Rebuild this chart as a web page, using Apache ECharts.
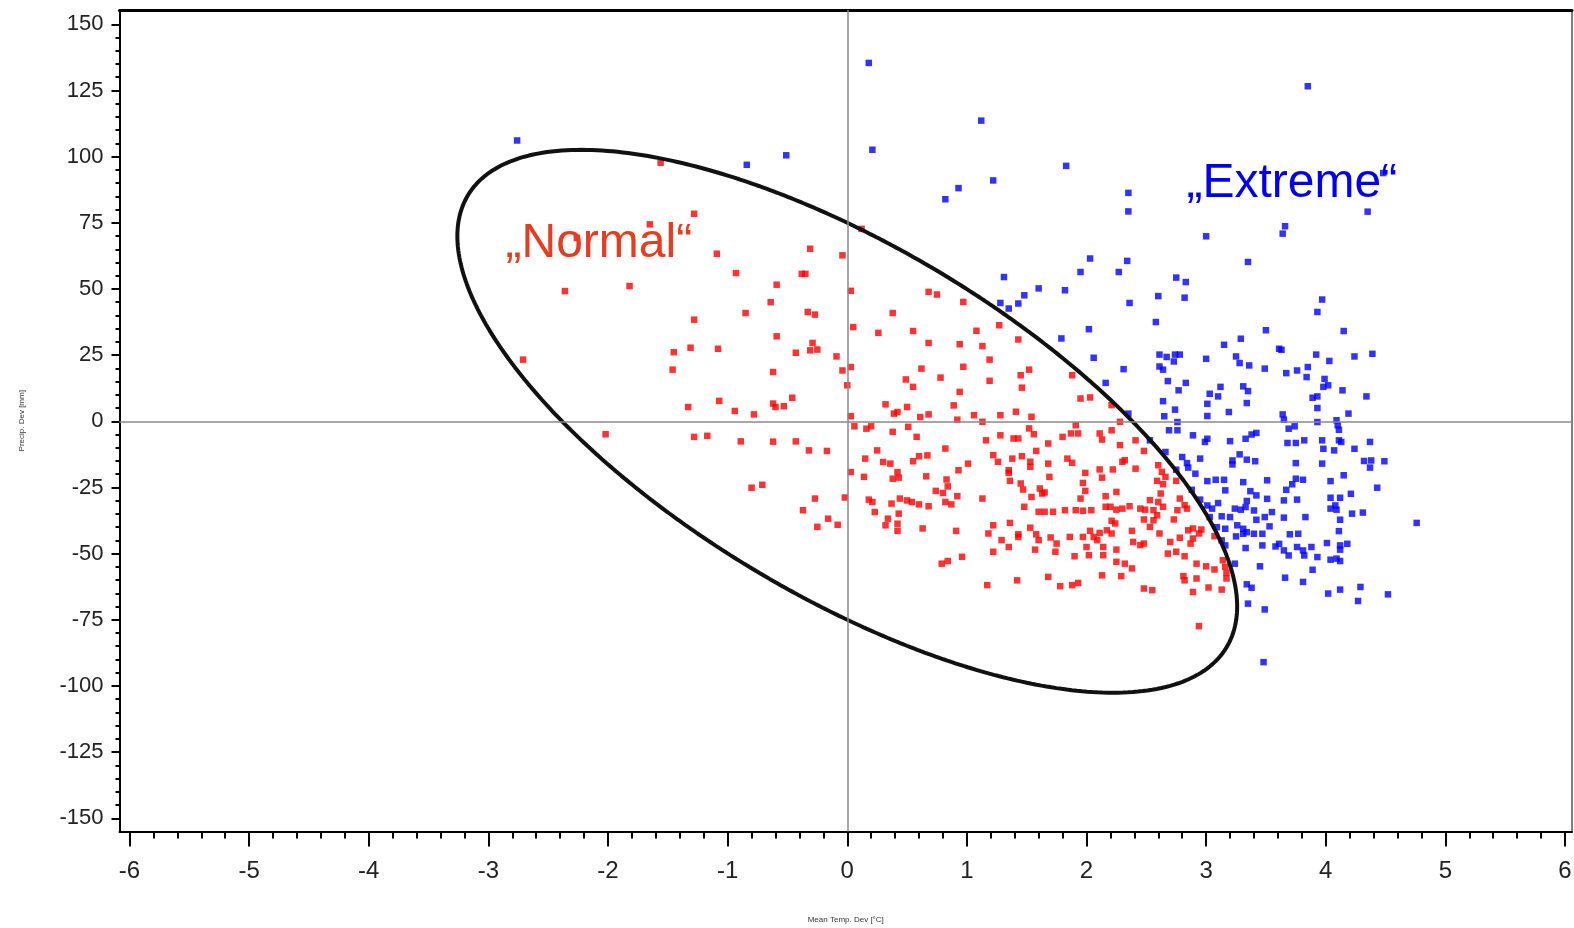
<!DOCTYPE html>
<html><head><meta charset="utf-8">
<script src="https://cdn.jsdelivr.net/npm/echarts@6/dist/echarts.min.js"></script>
<style>html,body{margin:0;padding:0;background:#fff}#c{width:1574px;height:928px}</style>
</head><body><div id="c"></div>
<script>
// Tick labels
const xTickLabels = [-6,-5,-4,-3,-2,-1,0,1,2,3,4,5,6];
const yTickLabels = [-150,-125,-100,-75,-50,-25,0,25,50,75,100,125,150];
const xMinorStep = 0.2;
const yMinorStep = 5;

// "Normal" points (red): [Mean Temp. Dev, Precip. Dev]
const normalPoints = [
[-1.56,97.7],[-1.28,78.4],[-1.65,74.4],[-2.26,69.3],[0.12,72.7],[-1.09,63.3],[-0.31,65.2],[-0.04,62.7],[-0.93,56],[-0.38,55.7],[-0.35,55.7],[-0.59,51.6],[-2.36,49.2],[-1.82,51.1],[0.03,49.3],[-0.64,45],[-0.85,40.9],[-0.33,41.3],[-0.27,40.3],[0.38,40.9],[-1.28,38.4],[0.05,35.6],[0.26,33.4],[-0.59,32.1],[-1.45,26.1],[-1.46,19.5],[-1.31,27.8],[-1.08,27.4],[-0.43,25.9],[-0.29,29.6],[-0.31,26.8],[-0.25,27.1],[-0.09,24.5],[-2.71,23.3],[-0.62,18.6],[-0.04,19.2],[0.03,20.5],[0,13.6],[-0.46,8.9],
[0.68,48.9],[0.75,47.9],[0.55,34.1],[0.68,29.6],[0.62,19.9],[0.78,16.5],[0.49,15.8],[0.55,13],[-2.02,-4.9],
[-1.33,5.4],[-1.07,7.7],[-0.94,3.9],[-0.78,2.6],[-0.62,6.7],[-0.60,5.4],[-0.53,5.7],
[-1.28,-5.9],[-1.17,-5.5],[-0.89,-7.6],[-0.62,-7.7],[-0.43,-7.6],[-0.32,-11],[-0.17,-11.2],[-0.80,-25.1],[-0.71,-24],[-0.27,-29.2],[-0.02,-28.8],[-0.37,-33.6],[-0.16,-36.8],[-0.25,-39.9],[-0.08,-39.1],
[0.03,1.9],[0.06,-1.9],[0.16,-2.8],[0.20,-1.9],[0.32,6.4],[0.39,2.9],[0.42,3.5],[0.50,5.4],[0.61,1.6],[0.68,2.6],[0.89,6],[0.92,0.6],[0.38,-4],[0.51,-2.1],[0.58,-5.9],[0.25,-11],[0.15,-14.1],[0.30,-15.4],[0.36,-16],[0.55,-15.1],[0.60,-13.2],[0.67,-12.9],[0.82,-10.3],[0.93,-18.5],[0.03,-19.2],[0.14,-21],[0.38,-21.7],[0.42,-19.2],[0.43,-21.3],[0.66,-20.8],[0.83,-22],[0.84,-24.6],[0.74,-26.3],[0.80,-27.1],[0.92,-28.3],[0.82,-30.5],[0.87,-31.4],[0.18,-29.6],[0.21,-30.5],[0.37,-31.1],[0.44,-29.2],[0.50,-29.9],[0.54,-30.5],[0.60,-31.4],[0.68,-32.1],[0.23,-34.3],[0.43,-34.9],[0.34,-36.8],[0.32,-39.3],[0.42,-38.7],[0.42,-41.4],[0.63,-40.5],[0.91,-41.4],[0.79,-53.8],[0.84,-52.8],
[0.97,45.1],[1.27,36.3],[1.08,34.2],[1.43,30.9],[0.94,29.1],[1.13,28.4],[1.19,23.3],[0.97,20.6],[1.52,19.5],[1.45,17.4],[1.19,15.3],[1.88,17.4],[1.46,12.7],[0.94,11.1],[1.95,8.6],[2.03,9],[2.21,6.1],[1.41,3.6],[1.28,2.3],[1.06,2.3],[1.13,-0.2],[1.54,1.7],[2.28,-0.2],[1.91,-1.5],[1.52,-2.7],[1.56,-4.9],[2.21,-3.4],[1.28,-5.3],[1.39,-6.5],[1.43,-6.5],[1.80,-5.9],[1.87,-4.6],[1.93,-4.6],[2.11,-4.6],[2.13,-6.9],[1.16,-7.2],[1.68,-8.4],[2.28,-9],[2.41,-7.2],[1.58,-11.2],[2.48,-11.2],[1.22,-12.8],[1.26,-15.3],[1.38,-14.1],[1.46,-13.2],[1.84,-14.1],[1.88,-15.7],[1.01,-16],[1.53,-15.3],[1.53,-17.2],[1.68,-16],[2.30,-15.3],[2.32,-14.7],[1.35,-18.5],[1.35,-19.5],[1.99,-19.5],[2.11,-18.2],[2.22,-18.2],[2.41,-17.9],[2.60,-16.6],[2.63,-19.1],[1.36,-22.5],[1.69,-21],[1.97,-23.3],[1.99,-26.3],[2.13,-21.3],[2.59,-22.5],[2.66,-21],[2.64,-23.8],[2.75,-22.5],[1.45,-23.5],[1.47,-25.8],[1.61,-25.4],[1.65,-26.9],[1.63,-27.3],[1.13,-29.2],[1.54,-28.6],[1.95,-29.2],[2.16,-28.3],[2.25,-26.7],[2.53,-29.8],[2.49,-33.4],[2.56,-33.6],[2.62,-27.3],[2.60,-30.5],[2.64,-32.3],[2.78,-29.2],[2.82,-31.7],[2.84,-33],[1.48,-32.3],[1.60,-34.2],[1.65,-34.2],[1.72,-34.2],[1.82,-33.6],[1.91,-33.6],[1.97,-33.8],[2.04,-33.6],[2.16,-32.3],[2.20,-32.3],[2.25,-33.4],[2.30,-33],[2.36,-32.1],[2.45,-33],[2.48,-37.1],[2.53,-39.9],[2.56,-37.4],[2.59,-35.5],[2.76,-33.6],[2.73,-37.1],[2.21,-37.6],[2.24,-38.6],[1.36,-38.4],[1.22,-39.3],[1.53,-40.2],[1.18,-42.4],[1.43,-42.7],[1.43,-43.7],[1.58,-42.7],[1.60,-44.9],[1.70,-43.9],[1.86,-43.7],[1.97,-43.7],[2.03,-41.4],[2.06,-43.7],[2.11,-42.2],[2.17,-41.2],[2.21,-42.4],[2.09,-44.9],[2.38,-41.4],[2.39,-45.6],[2.45,-46.8],[2.48,-46.2],[2.61,-42.4],[2.70,-45.6],[2.78,-44],[2.85,-41.2],[2.89,-40.5],[2.94,-42.4],[2.96,-40.9],[2.87,-46.2],[2.89,-44.3],[3.07,-43.4],[1.29,-44.9],[1.35,-47.5],[1.22,-49.3],[1.57,-48.5],[1.74,-49.3],[1.75,-46.2],[2.00,-47.5],[2.02,-50.6],[2.14,-47.5],[2.14,-50.6],[2.25,-48.5],[1.90,-51],[0.96,-51.2],[2.25,-53.1],[2.32,-53.8],[2.38,-55.6],[2.68,-50],[2.75,-49.3],[2.82,-51],[2.92,-53.8],[3.00,-54.8],[3.07,-56],[3.14,-52.5],[3.16,-55],[3.17,-57.3],[3.17,-59.4],[1.68,-58.8],[2.13,-58.2],[2.29,-58.5],[2.81,-58.5],[2.82,-60.1],[2.92,-59.4],[1.17,-61.9],[1.42,-60.1],[1.78,-62.3],[1.88,-61.9],[1.93,-61.1],[2.48,-63.2],[2.55,-63.8],[2.89,-64.5],[3.02,-62.8],[3.13,-63.6],[2.94,-77.4]
];

// "Extreme" points (blue)
const extremePoints = [
[-2.76,106.1],[-0.84,96.9],[-0.51,100.5],[0.21,102.6],
[0.18,135.4],[1.12,113.6],[1.22,91],[0.82,83.9],[0.93,88.1],[1.83,96.5],[2.35,86.3],[2.35,79.3],[3.85,126.6],[4.35,79.2],[4.48,93.8],[3.00,69.9],[3.66,73.7],[3.64,70.9],[2.03,61.5],[1.95,56.4],[2.27,56.4],[2.34,60.6],[1.31,54.5],
[1.60,50.2],[1.82,49.5],[1.48,47.6],[1.28,44.7],[1.43,44.5],[1.35,42.6],[2.36,44.7],[2.02,34.8],[1.79,31.3],[2.06,24],[2.31,19.7],[2.16,14.5],[2.35,2.9],
[3.35,60.2],[2.75,54.3],[2.83,52.6],[2.60,47.3],[2.82,46.7],[3.97,46],[3.93,41.3],[2.58,37.5],[3.50,34.4],[4.15,34.1],[3.29,31.2],[3.15,28.9],[3.61,27.4],[3.63,27],[2.61,25.2],[2.67,24.3],[2.74,25.2],[2.78,25.2],[3.00,23.6],[3.25,24.5],[3.92,25.2],[4.03,22.8],[4.24,24.5],[4.39,25.5],[2.61,20.7],[2.64,19.5],[2.73,22.6],[3.28,22],[3.36,21.1],[3.49,19.9],[3.67,18.2],[3.76,19.2],[3.85,20.5],[3.84,16.7],[3.99,16],[2.68,15.2],[2.83,14.5],[3.12,13],[3.98,13],[4.02,13.6],[3.31,13.2],[3.35,11.4],[4.14,11.7],[2.77,11.7],[3.03,10.4],[3.10,9.4],[4.34,9.4],[3.89,8.9],[3.93,9.4],[2.64,7.6],[3.34,6.9],[3.01,6.6],[2.74,4.4],[3.93,5],[3.19,3.5],[4.19,2.9],[2.65,1.9],[3.01,2],[3.64,2.6],[3.65,0.6],[3.93,-0.3],[4.09,0.4],[4.10,-1.5],[4.11,-3.2],[2.76,-0.3],[3.69,-2.8],[3.74,-1.9],[2.69,-3.4],[2.76,-3.4],[2.89,-5.3],[3.01,-6.6],[2.99,-7.8],[3.20,-7.5],[3.33,-6.6],[3.38,-5],[3.42,-4.4],[3.68,-8.2],[3.75,-8.2],[3.82,-7.2],[3.97,-7.2],[3.98,-10.4],[4.07,-11],[4.11,-7.2],[4.13,-7.8],[4.24,-10.4],[4.37,-7.8],[2.53,-7.2],[2.66,-11.6],[2.80,-13.5],[2.95,-14.1],[3.28,-12.5],[3.22,-14.8],[3.22,-16.3],[3.34,-14.5],[3.41,-15.1],[3.75,-15.8],[3.97,-16],[4.32,-15],[4.38,-14.8],[4.37,-17.5],[4.49,-15.1],[2.84,-15.8],[2.85,-17.5],[2.91,-19.8],[3.01,-22.6],[3.08,-22.1],[3.15,-22.1],[3.31,-23],[3.51,-22.3],[3.75,-21.7],[3.81,-22.1],[4.04,-22.6],[4.15,-20.4],[2.88,-25.9],[3.16,-26.1],[3.37,-26.4],[3.42,-28],[3.67,-25.9],[3.72,-23.8],[4.04,-28.9],[4.12,-28.9],[4.21,-27.4],[4.43,-25.1],[2.95,-29.6],[3.10,-30.9],[3.34,-30.1],[3.51,-29.3],[3.65,-29.9],[3.76,-29.6],[4.04,-33],[4.09,-33.4],[4.08,-31.8],[4.22,-34.9],[4.31,-34.5],[4.76,-38.4],[3.03,-36.2],[3.13,-35.9],[3.20,-36.2],[3.24,-33],[3.29,-33.4],[3.33,-32.4],[3.40,-33.7],[3.42,-37.2],[3.49,-36.2],[3.55,-34.3],[3.65,-36.4],[3.83,-36.2],[4.12,-37.2],[3.09,-40],[3.16,-40.6],[3.26,-39.3],[3.31,-40.6],[3.34,-41.9],[3.40,-42.5],[3.47,-42.5],[3.53,-39.7],[3.70,-42.7],[3.77,-42.5],[4.11,-41.5],[3.13,-45],[3.16,-46.9],[3.25,-43.5],[3.31,-42.5],[3.33,-47.9],[3.47,-46.9],[3.58,-47.3],[3.61,-46.3],[3.65,-48.8],[3.69,-50.7],[3.76,-47.5],[3.81,-48.8],[3.82,-50.7],[3.88,-47.5],[3.93,-51.3],[4.01,-46],[4.04,-52.3],[4.09,-51.9],[4.12,-52.8],[4.12,-46.9],[4.12,-48.5],[4.18,-46.3],[3.24,-53.8],[3.45,-54.8],[3.89,-56.1],[3.66,-59.1],[3.81,-60.7],[3.34,-61.6],[3.38,-62.9],[4.02,-65.1],[4.12,-63.6],[4.27,-67.9],[4.29,-62.6],[4.52,-65.4],[3.35,-68.9],[3.49,-71.1],[2.75,-18.3],[3.01,-31.8],[3.05,-33],[3.48,-91]
];

// Separating ellipse: A*x^2 + B*x*y + C*y^2 = 1 (data units, centred at origin)
const ellipseA = 0.176;
const ellipseB = 0.00763;
const ellipseC = 1 / 5625;

const ellipsePoints = [];
(function () {
  const S = 30;
  for (let i = 0; i <= 720; i++) {
    const t = i * Math.PI / 360;
    const c = Math.cos(t), s = Math.sin(t) * S;
    const r = 1 / Math.sqrt(ellipseA * c * c + ellipseB * c * s + ellipseC * s * s);
    ellipsePoints.push([r * c, r * s]);
  }
})();

const xMin = -6.0836, xMax = 6.0585, yMin = -155.0, yMax = 155.4;

function minorValues(labels, step) {
  const out = [];
  const lo = labels[0], hi = labels[labels.length - 1];
  const major = labels[1] - labels[0];
  const n = Math.round((hi - lo) / step);
  for (let i = 0; i <= n; i++) {
    const v = +(lo + i * step).toFixed(4);
    const k = (v - lo) / major;
    if (Math.abs(k - Math.round(k)) > 1e-6) out.push(v);
  }
  return out;
}
const xMinor = minorValues(xTickLabels, xMinorStep);
const yMinor = minorValues(yTickLabels, yMinorStep);

const FONT = '"Liberation Sans", Arial, sans-serif';
const chart = echarts.init(document.getElementById('c'), null, {renderer: 'canvas'});

const hidden = {show: false};
chart.setOption({
  animation: false,
  backgroundColor: '#ffffff',
  grid: {left: 119.5, right: 2, top: 10, bottom: 96.5, containLabel: false, outerBoundsMode: 'none'},
  xAxis: [
    {
      type: 'value', position: 'bottom', min: xMin, max: xMax,
      splitLine: hidden,
      axisLine: {show: true, onZero: false, lineStyle: {color: '#000', width: 2}},
      axisTick: {show: true, inside: false, length: 15, lineStyle: {color: '#000', width: 2}, customValues: xTickLabels},
      axisLabel: {show: true, customValues: xTickLabels, margin: 28, fontSize: 24, color: '#222', fontFamily: FONT},
      name: 'Mean Temp. Dev [°C]', nameLocation: 'middle', nameGap: 84,
      nameTextStyle: {fontSize: 8, color: '#333', fontFamily: FONT}
    },
    {
      type: 'value', position: 'bottom', min: xMin, max: xMax,
      splitLine: hidden, axisLabel: hidden,
      axisLine: {show: false, onZero: false},
      axisTick: {show: true, length: 7, lineStyle: {color: '#000', width: 2}, customValues: xMinor}
    },
    {
      type: 'value', position: 'top', min: xMin, max: xMax,
      splitLine: hidden, axisLabel: hidden, axisTick: hidden,
      axisLine: {show: true, onZero: false, lineStyle: {color: '#000', width: 3}}
    }
  ],
  yAxis: [
    {
      type: 'value', position: 'left', min: yMin, max: yMax,
      splitLine: hidden,
      axisLine: {show: true, onZero: false, lineStyle: {color: '#000', width: 2}},
      axisTick: {show: true, length: 8, lineStyle: {color: '#000', width: 2}, customValues: yTickLabels},
      axisLabel: {show: true, customValues: yTickLabels, margin: 16, fontSize: 22, color: '#222', fontFamily: FONT},
      name: 'Precip. Dev [mm]', nameLocation: 'middle', nameGap: 94, nameRotate: 90,
      nameTextStyle: {fontSize: 8, color: '#333', fontFamily: FONT}
    },
    {
      type: 'value', position: 'left', min: yMin, max: yMax,
      splitLine: hidden, axisLabel: hidden,
      axisLine: {show: false, onZero: false},
      axisTick: {show: true, length: 4, lineStyle: {color: '#000', width: 2}, customValues: yMinor}
    },
    {
      type: 'value', position: 'right', min: yMin, max: yMax,
      splitLine: hidden, axisLabel: hidden, axisTick: hidden,
      axisLine: {show: true, onZero: false, lineStyle: {color: '#555', width: 1.5}}
    }
  ],
  series: [
    {
      type: 'scatter', name: 'axes', data: [], z: 1, silent: true,
      markLine: {
        silent: true, symbol: 'none', animation: false,
        label: {show: false},
        lineStyle: {color: '#8a8a8a', width: 1.5, type: 'solid'},
        data: [{xAxis: 0}, {yAxis: 0}]
      }
    },
    {
      type: 'scatter', name: 'Normal', data: normalPoints, symbol: 'rect', symbolSize: 6.5,
      itemStyle: {color: '#ff0000'}, z: 3, silent: true
    },
    {
      type: 'scatter', name: 'Extreme', data: extremePoints, symbol: 'rect', symbolSize: 6.5,
      itemStyle: {color: '#0000ff'}, z: 3, silent: true
    },
    {
      type: 'line', name: 'ellipse', data: ellipsePoints, showSymbol: false, symbol: 'none',
      smooth: false, lineStyle: {color: '#111', width: 4}, z: 4, silent: true
    }
  ],
  graphic: [
    {type: 'text', left: 505.5, top: 220, z: 10,
     style: {text: '\u201ENormal\u201C', font: '48px ' + FONT, fill: '#e63c1f'}},
    {type: 'text', left: 1186.5, top: 160, z: 10,
     style: {text: '\u201EExtreme\u201C', font: '48px ' + FONT, fill: '#0000ee'}}
  ]
});
</script>
</body></html>
